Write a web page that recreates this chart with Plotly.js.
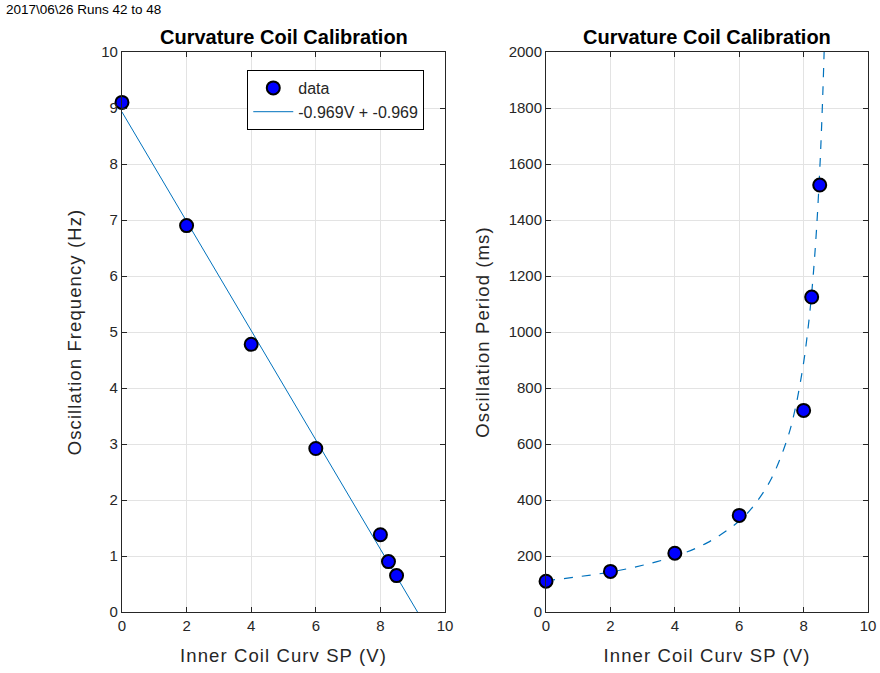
<!DOCTYPE html>
<html>
<head>
<meta charset="utf-8">
<script src="https://cdn.plot.ly/plotly-3.0.1.min.js"></script>
<style>
html,body{margin:0;padding:0;background:#fff;}
#chart{width:880px;height:673px;}
#chart .xtitle, #chart .x2title, #chart .ytitle, #chart .y2title {letter-spacing:1.1px;}
</style>
</head>
<body>
<div id="chart"></div>
<script>
// Data
var spVolts = [0, 2, 4, 6, 8, 8.25, 8.5];
var freqHz = [9.1, 6.9, 4.78, 2.92, 1.38, 0.9, 0.65];
var periodMs = [110, 145, 210, 345, 720, 1125, 1525];
var fitX = [0, 9.15];
var fitY = [8.93, 0];
var curveX = [0, 1, 2, 3, 4, 5, 6, 6.5, 7, 7.5, 7.75, 8, 8.1, 8.2, 8.3, 8.4, 8.5, 8.55, 8.6, 8.65];
var curveY = [112, 126, 143, 167, 199, 247, 325, 387, 477, 621, 732, 891, 977, 1079, 1206, 1366, 1577, 1709, 1866, 2050];
var fitLabel = '-0.969V + -0.969';
var supTitle = '2017\\06\\26 Runs 42 to 48';
var panelTitle = 'Curvature Coil Calibration';
var xTitle = 'Inner Coil Curv SP (V)';
var yTitleLeft = 'Oscillation Frequency (Hz)';
var yTitleRight = 'Oscillation Period (ms)';

var lineColor = '#0072BD';
var marker = {color: '#0000ff', size: 13, line: {color: '#000000', width: 2}};

var traces = [
  {x: fitX, y: fitY, type: 'scatter', mode: 'lines', name: fitLabel, line: {color: lineColor, width: 1}, xaxis: 'x', yaxis: 'y'},
  {x: spVolts, y: freqHz, type: 'scatter', mode: 'markers', name: 'data', marker: marker, xaxis: 'x', yaxis: 'y', showlegend: true, cliponaxis: false},
  {x: curveX, y: curveY, type: 'scatter', mode: 'lines', line: {color: lineColor, width: 1.2, dash: 'dash', shape: 'spline'}, xaxis: 'x2', yaxis: 'y2', showlegend: false},
  {x: spVolts, y: periodMs, type: 'scatter', mode: 'markers', marker: marker, xaxis: 'x2', yaxis: 'y2', showlegend: false, cliponaxis: false}
];

var fontFam = 'Liberation Sans, Arial, Helvetica, sans-serif';
var axColor = '#262626';
var titleFont = {family: fontFam, size: 18.5, color: axColor};
function ax(extra) {
  var base = {
    showline: true, linecolor: axColor, linewidth: 1, mirror: 'ticks',
    ticks: 'inside', ticklen: 5, tickcolor: axColor, tickwidth: 1,
    showgrid: true, gridcolor: '#e3e3e3', gridwidth: 1, zeroline: false,
    tickfont: {family: fontFam, size: 15, color: axColor},
    fixedrange: true
  };
  for (var k in extra) base[k] = extra[k];
  return base;
}

var layout = {
  width: 880, height: 673,
  margin: {l: 0, r: 0, t: 0, b: 0},
  paper_bgcolor: '#ffffff', plot_bgcolor: '#ffffff',
  font: {family: fontFam, color: axColor},
  showlegend: true,
  legend: {
    x: 0.281, y: 0.896, xanchor: 'left', yanchor: 'top',
    bgcolor: '#ffffff', bordercolor: '#000000', borderwidth: 1,
    font: {family: fontFam, size: 16, color: axColor},
    traceorder: 'reversed', itemwidth: 40
  },
  xaxis: ax({domain: [0.1386, 0.5057], range: [0, 10], dtick: 2, anchor: 'y',
    title: {text: xTitle, font: titleFont, standoff: 16}}),
  yaxis: ax({domain: [0.0906, 0.9227], range: [0, 10], dtick: 1, anchor: 'x',
    title: {text: yTitleLeft, font: titleFont, standoff: 14}}),
  xaxis2: ax({domain: [0.6205, 0.9864], range: [0, 10], dtick: 2, anchor: 'y2',
    title: {text: xTitle, font: titleFont, standoff: 16}}),
  yaxis2: ax({domain: [0.0906, 0.9227], range: [0, 2000], dtick: 200, anchor: 'x2',
    title: {text: yTitleRight, font: titleFont, standoff: 14}}),
  annotations: [
    {text: supTitle, xref: 'paper', yref: 'paper', x: 0.004, y: 1, xanchor: 'left', yanchor: 'top', showarrow: false,
     font: {family: fontFam, size: 13.5, color: '#000000'}},
    {text: '<b>' + panelTitle + '</b>', xref: 'paper', yref: 'paper', x: 0.3222, y: 0.9227, xanchor: 'center', yanchor: 'bottom', showarrow: false, yshift: 2,
     font: {family: fontFam, size: 20, color: '#000000'}},
    {text: '<b>' + panelTitle + '</b>', xref: 'paper', yref: 'paper', x: 0.8035, y: 0.9227, xanchor: 'center', yanchor: 'bottom', showarrow: false, yshift: 2,
     font: {family: fontFam, size: 20, color: '#000000'}}
  ]
};

Plotly.newPlot('chart', traces, layout, {displayModeBar: false, staticPlot: true});
</script>
</body>
</html>
